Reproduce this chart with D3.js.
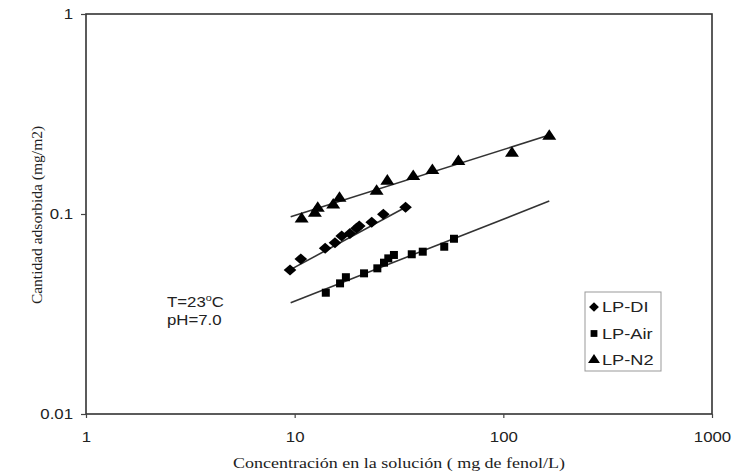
<!DOCTYPE html>
<html>
<head>
<meta charset="utf-8">
<script src="https://cdn.jsdelivr.net/npm/d3@7"></script>
<style>
  body { margin: 0; background: #fff; }
</style>
</head>
<body>
<div class="svg-container"></div>
<script>
// data
const diX  = [9.5, 10.7, 14.0, 15.6, 16.8, 18.4, 19.8, 20.4, 23.4, 26.6, 34.0];
const diY  = [0.0525, 0.0596, 0.0674, 0.0719, 0.0776, 0.080, 0.0848, 0.087, 0.0909, 0.0997, 0.108];
const airX = [14.1, 16.5, 17.6, 21.5, 24.9, 26.8, 28.1, 29.9, 36.4, 41.1, 52.1, 58.0];
const airY = [0.0404, 0.045, 0.0483, 0.0505, 0.0535, 0.0571, 0.060, 0.0624, 0.0629, 0.0648, 0.0686, 0.0752];
const n2X  = [10.8, 12.5, 12.9, 15.3, 16.4, 24.7, 27.8, 37.0, 45.7, 60.9, 110, 166];
const n2Y  = [0.0944, 0.1008, 0.1068, 0.111, 0.1198, 0.130, 0.146, 0.154, 0.165, 0.183, 0.201, 0.245];

// fitted trend lines (end points)
const diFitX  = [9.16, 34.0];
const diFitY  = [0.0515, 0.108];
const airFitX = [9.57, 166];
const airFitY = [0.036, 0.116];
const n2FitX  = [9.57, 166];
const n2FitY  = [0.0969, 0.248];

const seriesNames = ['LP-DI', 'LP-Air', 'LP-N2'];
const xTicks = [1, 10, 100, 1000];
const yTicks = [0.01, 0.1, 1];

//required dimensions
const width = 733;
const height = 475;
const plot = { left: 86, right: 712, top: 14, bottom: 414 };
const stretch = 1.2;   // the source picture is wider than tall

const xScale = d3.scaleLog()
    .domain([1, 1000])
    .range([plot.left, plot.right]);

const yScale = d3.scaleLog()
    .domain([0.01, 1])
    .range([plot.bottom, plot.top]);

const svg = d3.select('.svg-container')
    .append('svg')
    .attr('width', width)
    .attr('height', height)
    .style('font-family', '"Liberation Sans", Arial, sans-serif');

//frame
svg.append('rect')
    .attr('x', plot.left)
    .attr('y', plot.top)
    .attr('width', plot.right - plot.left)
    .attr('height', plot.bottom - plot.top)
    .attr('fill', 'none')
    .attr('stroke', '#333')
    .attr('stroke-width', 1.6);

//x-axis
const xAxis = d3.axisBottom(xScale)
    .tickValues(xTicks)
    .tickFormat(d => d)
    .tickSize(4)
    .tickPadding(14);

svg.append('g')
    .attr('class', 'x-axis')
    .attr('transform', `translate(0, ${plot.bottom})`)
    .call(xAxis)
    .call(g => g.select('.domain').remove());

//y-axis
const yAxis = d3.axisLeft(yScale)
    .tickValues(yTicks)
    .tickFormat(d => d)
    .tickSize(5)
    .tickPadding(8);

svg.append('g')
    .attr('class', 'y-axis')
    .attr('transform', `translate(${plot.left}, 0)`)
    .call(yAxis)
    .call(g => g.select('.domain').remove());

svg.selectAll('.tick line').attr('stroke', '#444').attr('stroke-width', 1.2);
svg.selectAll('.tick text')
    .attr('fill', '#222')
    .attr('font-size', 14)
    .attr('font-family', '"Liberation Sans", Arial, sans-serif');

// widen the tick labels like the source
svg.selectAll('.x-axis .tick text')
    .attr('transform', `scale(${stretch},1)`);
svg.selectAll('.y-axis .tick text')
    .attr('x', -13 / stretch)
    .attr('transform', `scale(${stretch},1)`);

//fit lines
const fits = [[diFitX, diFitY], [airFitX, airFitY], [n2FitX, n2FitY]];
svg.selectAll('.fit')
    .data(fits)
    .join('line')
    .attr('class', 'fit')
    .attr('x1', d => xScale(d[0][0]))
    .attr('y1', d => yScale(d[1][0]))
    .attr('x2', d => xScale(d[0][1]))
    .attr('y2', d => yScale(d[1][1]))
    .attr('stroke', '#333')
    .attr('stroke-width', 1.6);

//markers (diamond = square turned 45 degrees, a bit wider than tall)
const markerPath = [
    d3.symbol().type(d3.symbolSquare).size(50)(),
    d3.symbol().type(d3.symbolSquare).size(64)(),
    d3.symbol().type(d3.symbolTriangle).size(64)()
];
const markerTf = ['rotate(45) scale(1.1)', '', 'scale(1.15,1)'];
const series = [[diX, diY], [airX, airY], [n2X, n2Y]];

series.forEach((s, i) => {
    const pts = s[0].map((x, j) => [x, s[1][j]]);
    svg.selectAll('.pt' + i)
        .data(pts)
        .join('path')
        .attr('class', 'pt' + i)
        .attr('d', markerPath[i])
        .attr('transform', d => `translate(${xScale(d[0])},${yScale(d[1])}) ${i === 0 ? 'scale(1.15,1) ' : ''}${markerTf[i]}`)
        .attr('fill', '#000');
});

//legend
const legend = { x: 585, y: 292, w: 76, h: 79 };
svg.append('rect')
    .attr('x', legend.x)
    .attr('y', legend.y)
    .attr('width', legend.w)
    .attr('height', legend.h)
    .attr('fill', '#fff')
    .attr('stroke', '#999')
    .attr('stroke-width', 1);

seriesNames.forEach((name, i) => {
    const cy = legend.y + 15 + i * 26.5;
    svg.append('path')
        .attr('d', markerPath[i])
        .attr('transform', `translate(${legend.x + 9},${cy}) ${i === 0 ? 'scale(1.05,1) ' : ''}scale(0.85) ${markerTf[i]}`)
        .attr('fill', '#000');
    svg.append('text')
        .attr('transform', `translate(${legend.x + 17},${cy + 5}) scale(1.3,1)`)
        .attr('font-size', 14)
        .attr('fill', '#222')
        .text(name);
});

//conditions note
const note = svg.append('text')
    .attr('transform', `translate(167,307) scale(${stretch},1)`)
    .attr('font-size', 14)
    .attr('fill', '#222');
note.append('tspan').text('T=23');
note.append('tspan').attr('font-size', 9).attr('dy', -6).text('o');
note.append('tspan').attr('dy', 6).text('C');

svg.append('text')
    .attr('transform', `translate(167,325) scale(${stretch},1)`)
    .attr('font-size', 14)
    .attr('fill', '#222')
    .text('pH=7.0');

//axis titles
svg.append('text')
    .attr('transform', `translate(399,468) scale(${stretch},1)`)
    .attr('text-anchor', 'middle')
    .attr('font-family', '"Liberation Serif", "Times New Roman", serif')
    .attr('font-size', 15)
    .attr('fill', '#222')
    .text('Concentración en la solución ( mg de fenol/L)');

svg.append('text')
    .attr('transform', `translate(42,215) rotate(-90)`)
    .attr('text-anchor', 'middle')
    .attr('font-family', '"Liberation Serif", "Times New Roman", serif')
    .attr('font-size', 15.5)
    .attr('fill', '#222')
    .text('Cantidad adsorbida (mg/m2)');
</script>
</body>
</html>
